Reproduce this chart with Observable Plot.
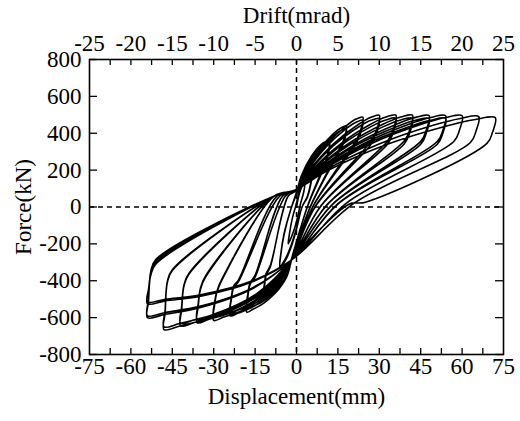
<!DOCTYPE html>
<html>
<head>
<meta charset="utf-8">
<script src="https://cdn.jsdelivr.net/npm/d3@7"></script>
<script src="https://cdn.jsdelivr.net/npm/@observablehq/plot@0.6"></script>
<style>
  html, body { margin: 0; padding: 0; background: white; }
  #chart svg, #chart svg text, #chart svg g, #chart svg tspan {
    font-family: "Liberation Serif", "Times New Roman", serif !important;
    font-variant: normal !important;
    font-variant-numeric: normal !important;
  }
</style>
</head>
<body>
<div id="chart"></div>
<script>
// Tick values and labels
const dispTicks = [-75, -60, -45, -30, -15, 0, 15, 30, 45, 60, 75];
const driftLabels = [-25, -20, -15, -10, -5, 0, 5, 10, 15, 20, 25];
const minorTicks = [-67.5, -60, -52.5, -45, -37.5, -30, -22.5, -15, -7.5, 0, 7.5, 15, 22.5, 30, 37.5, 45, 52.5, 60, 67.5];
const forceTicks = [-800, -600, -400, -200, 0, 200, 400, 600, 800];

// Hysteresis cycles: flat [displacement(mm), force(kN), ...]
const c01 = [0,0, 1,70, 2,110, 3,130, 2.6,80, 1.5,20, 0,-80, -1.5,-150, -3,-200, -2.6,-150, -1.5,-60, 0,20];
const c02 = [1,90, 2,140, 4,205, 6,230, 5.5,160, 4,60, 2,0, 0,-120, -2,-220, -4,-290, -6,-330, -5.6,-250, -4.5,-150, -2,-10];
const c03 = [0,70, 2,135, 4,195, 6,220, 5.5,150, 4,55, 2,0, 0,-115, -2,-210, -4,-280, -6,-320, -5.6,-245, -4.5,-145, -2,-10];
const c04 = [0,80, 1.8,170, 5.4,275, 9,340, 10.8,355, 12,360, 11.3,290, 10.2,235, 4,5, -1.5,-270, -3.6,-380, -7.8,-465, -10.6,-495, -12,-507, -11.6,-430, -11,-370, -9.5,-325, -3,60];
const c05 = [0,90, 1.8,165, 5.4,265, 9,328, 10.8,340, 12,345, 11.3,275, 10.2,222, 4,3, -1.5,-265, -3.6,-372, -7.8,-452, -10.6,-480, -12,-490, -11.6,-415, -11,-360, -9.5,-318, -3,60];
const c06 = [0,95, 2.7,180, 8.1,310, 13.5,400, 16.2,430, 18,440, 17,360, 15,300, 5,2, -2,-290, -5.4,-425, -11.7,-520, -15.8,-555, -18,-570, -17.6,-485, -16.8,-420, -15,-380, -4,60];
const c07 = [0,95, 2.7,176, 8.1,300, 13.5,388, 16.2,416, 18,425, 17,345, 15,287, 5,0, -2,-290, -5.4,-418, -11.7,-508, -15.8,-540, -18,-555, -17.6,-470, -16.8,-410, -15,-370, -5,60];
const c08 = [0,95, 3.6,193, 10.8,338, 18,440, 21.6,477, 24,487, 23,407, 21,347, 6,5, -2,-290, -7.2,-440, -15.6,-540, -21.1,-575, -24,-590, -23.6,-500, -22.8,-440, -21,-405, -6,60];
const c09 = [0,95, 3.6,189, 10.8,327, 18,425, 21.6,460, 24,470, 23,390, 21,330, 6,4, -2,-290, -7.2,-432, -15.6,-527, -21.1,-558, -24,-575, -23.6,-490, -22.8,-430, -21,-395, -7,60];
const c10 = [0,95, 4.5,196, 13.5,344, 22.5,449, 27,487, 30,497, 29,417, 27,357, 7,8, -2,-290, -9,-452, -19.5,-560, -26.4,-597, -30,-615, -29.6,-525, -28.8,-460, -27,-395, -8,60];
const c11 = [0,95, 4.5,191, 13.5,334, 22.5,434, 27,470, 30,480, 29,400, 27,340, 7,6, -2,-290, -9,-445, -19.5,-547, -26.4,-582, -30,-600, -29.6,-510, -28.8,-455, -27,-390, -8,60];
const c12 = [0,95, 5.4,196, 16.2,345, 27,450, 32.4,488, 36,498, 35,418, 33,358, 9,10, -2,-290, -10.8,-459, -23.4,-571, -31.7,-609, -36,-628, -35.6,-538, -34.8,-447, -33,-382, -8,60];
const c13 = [0,95, 5.4,192, 16.2,335, 27,436, 32.4,472, 36,482, 35,402, 33,342, 9,8, -2,-290, -10.8,-451, -23.4,-557, -31.7,-594, -36,-612, -35.6,-522, -34.8,-440, -33,-375, -8,60];
const c14 = [0,95, 6.3,196, 18.9,345, 31.5,450, 37.8,488, 42,498, 41,418, 39,358, 11,12, -2,-290, -12.6,-468, -27.3,-585, -37,-626, -42,-645, -41.6,-555, -40.8,-430, -39,-365, -8,60];
const c15 = [0,95, 6.3,192, 18.9,335, 31.5,436, 37.8,472, 42,482, 41,402, 39,342, 11,10, -2,-290, -12.6,-460, -27.3,-572, -37,-611, -42,-630, -41.6,-540, -40.8,-425, -39,-360, -8,60];
const c16 = [0,95, 7.2,195, 21.6,344, 36,448, 43.2,486, 48,496, 47,416, 45,356, 13,15, -2,-290, -14.4,-478, -31.2,-601, -42.2,-645, -48,-665, -47.6,-575, -46.8,-410, -45,-345, -8,60];
const c17 = [0,95, 7.2,191, 21.6,334, 36,434, 43.2,470, 48,480, 47,400, 45,340, 13,13, -2,-290, -14.4,-470, -31.2,-589, -42.2,-631, -48,-650, -47.6,-560, -46.8,-405, -45,-340, -8,60];
const c18 = [0,95, 8.1,195, 24.3,343, 40.5,447, 48.6,485, 54,495, 53,415, 51,355, 15,18, -2,-290, -16.2,-445, -35.1,-547, -47.5,-582, -54,-600, -53.6,-510, -52.8,-350, -51,-285, -8,60];
const c19 = [0,95, 8.1,191, 24.3,334, 40.5,434, 48.6,470, 54,480, 53,400, 51,340, 15,16, -2,-290, -16.2,-440, -35.1,-539, -47.5,-572, -54,-590, -53.6,-500, -52.8,-360, -51,-295, -8,60];
const c20 = [0,95, 9,195, 27,343, 45,447, 54,485, 60,495, 59,415, 57,355, 18,20, -2,-290, -16.2,-407, -35.1,-485, -47.5,-509, -54,-525, -53.6,-450, -52.8,-365, -51,-305, -8,60];
const c21 = [0,95, 9.9,194, 29.7,340, 49.5,443, 59.4,480, 66,490, 65,410, 63,350, 21,22, -2,-290, -16.2,-402, -35.1,-477, -47.5,-500, -54,-515, -53.6,-445, -52.8,-370, -51,-310, -8,60];
const c22 = [0,95, 10.8,193, 32.4,337, 54,438, 64.8,475, 72,485, 71,405, 69,345, 25,26, 19,15, -2,-290];

const cycles = [c01, c02, c03, c04, c05, c06, c07, c08, c09, c10, c11, c12, c13, c14, c15, c16, c17, c18, c19, c20, c21, c22];
const points = [];
cycles.forEach((c, k) => {
  for (let i = 0; i < c.length; i += 2) points.push({d: c[i], f: c[i + 1], cycle: k + 1});
});

const fmt = d => String(d);
const serif = "Liberation Serif";

const chart = Plot.plot({
  width: 520,
  height: 421,
  marginLeft: 89,
  marginRight: 17,
  marginTop: 59,
  marginBottom: 67,
  x: {domain: [-75, 75]},
  y: {domain: [-800, 800]},
  style: {fontFamily: serif, fontSize: "23px", color: "black", background: "white"},
  marks: [
    Plot.ruleY([0], {stroke: "black", strokeWidth: 1.5, strokeDasharray: "5,4"}),
    Plot.ruleX([0], {stroke: "black", strokeWidth: 1.5, strokeDasharray: "5,4"}),
    Plot.line(points, {x: "d", y: "f", curve: "catmull-rom", stroke: "black", strokeWidth: 1.6}),
    Plot.frame({stroke: "black", strokeWidth: 1.6}),
    Plot.tickX(minorTicks, {x: d => d, insetTop: 289, stroke: "black", strokeWidth: 1.3}),
    Plot.tickX(minorTicks, {x: d => d, insetBottom: 289, stroke: "black", strokeWidth: 1.3}),
    Plot.tickY(forceTicks, {y: d => d, insetRight: 406, stroke: "black", strokeWidth: 1.3}),
    Plot.tickY(forceTicks, {y: d => d, insetLeft: 406, stroke: "black", strokeWidth: 1.3}),
    Plot.axisX(dispTicks, {anchor: "bottom", tickSize: 0, tickPadding: 3, tickFormat: fmt, fontSize: 23, fontFamily: serif, fontVariant: "normal",
      label: "Displacement(mm)", labelAnchor: "center", labelOffset: 49, labelArrow: "none"}),
    Plot.axisX(dispTicks, {anchor: "top", tickSize: 0, tickPadding: 9, tickFormat: (d, i) => String(driftLabels[i]), fontSize: 23, fontFamily: serif, fontVariant: "normal",
      label: "Drift(mrad)", labelAnchor: "center", labelOffset: 53, labelArrow: "none"}),
    Plot.axisY(forceTicks, {anchor: "left", tickSize: 0, tickPadding: 8, tickFormat: fmt, fontSize: 23, fontFamily: serif, fontVariant: "normal",
      label: "Force(kN)", labelAnchor: "center", labelOffset: 75, labelArrow: "none"})
  ]
});
document.getElementById("chart").appendChild(chart);
</script>
</body>
</html>
